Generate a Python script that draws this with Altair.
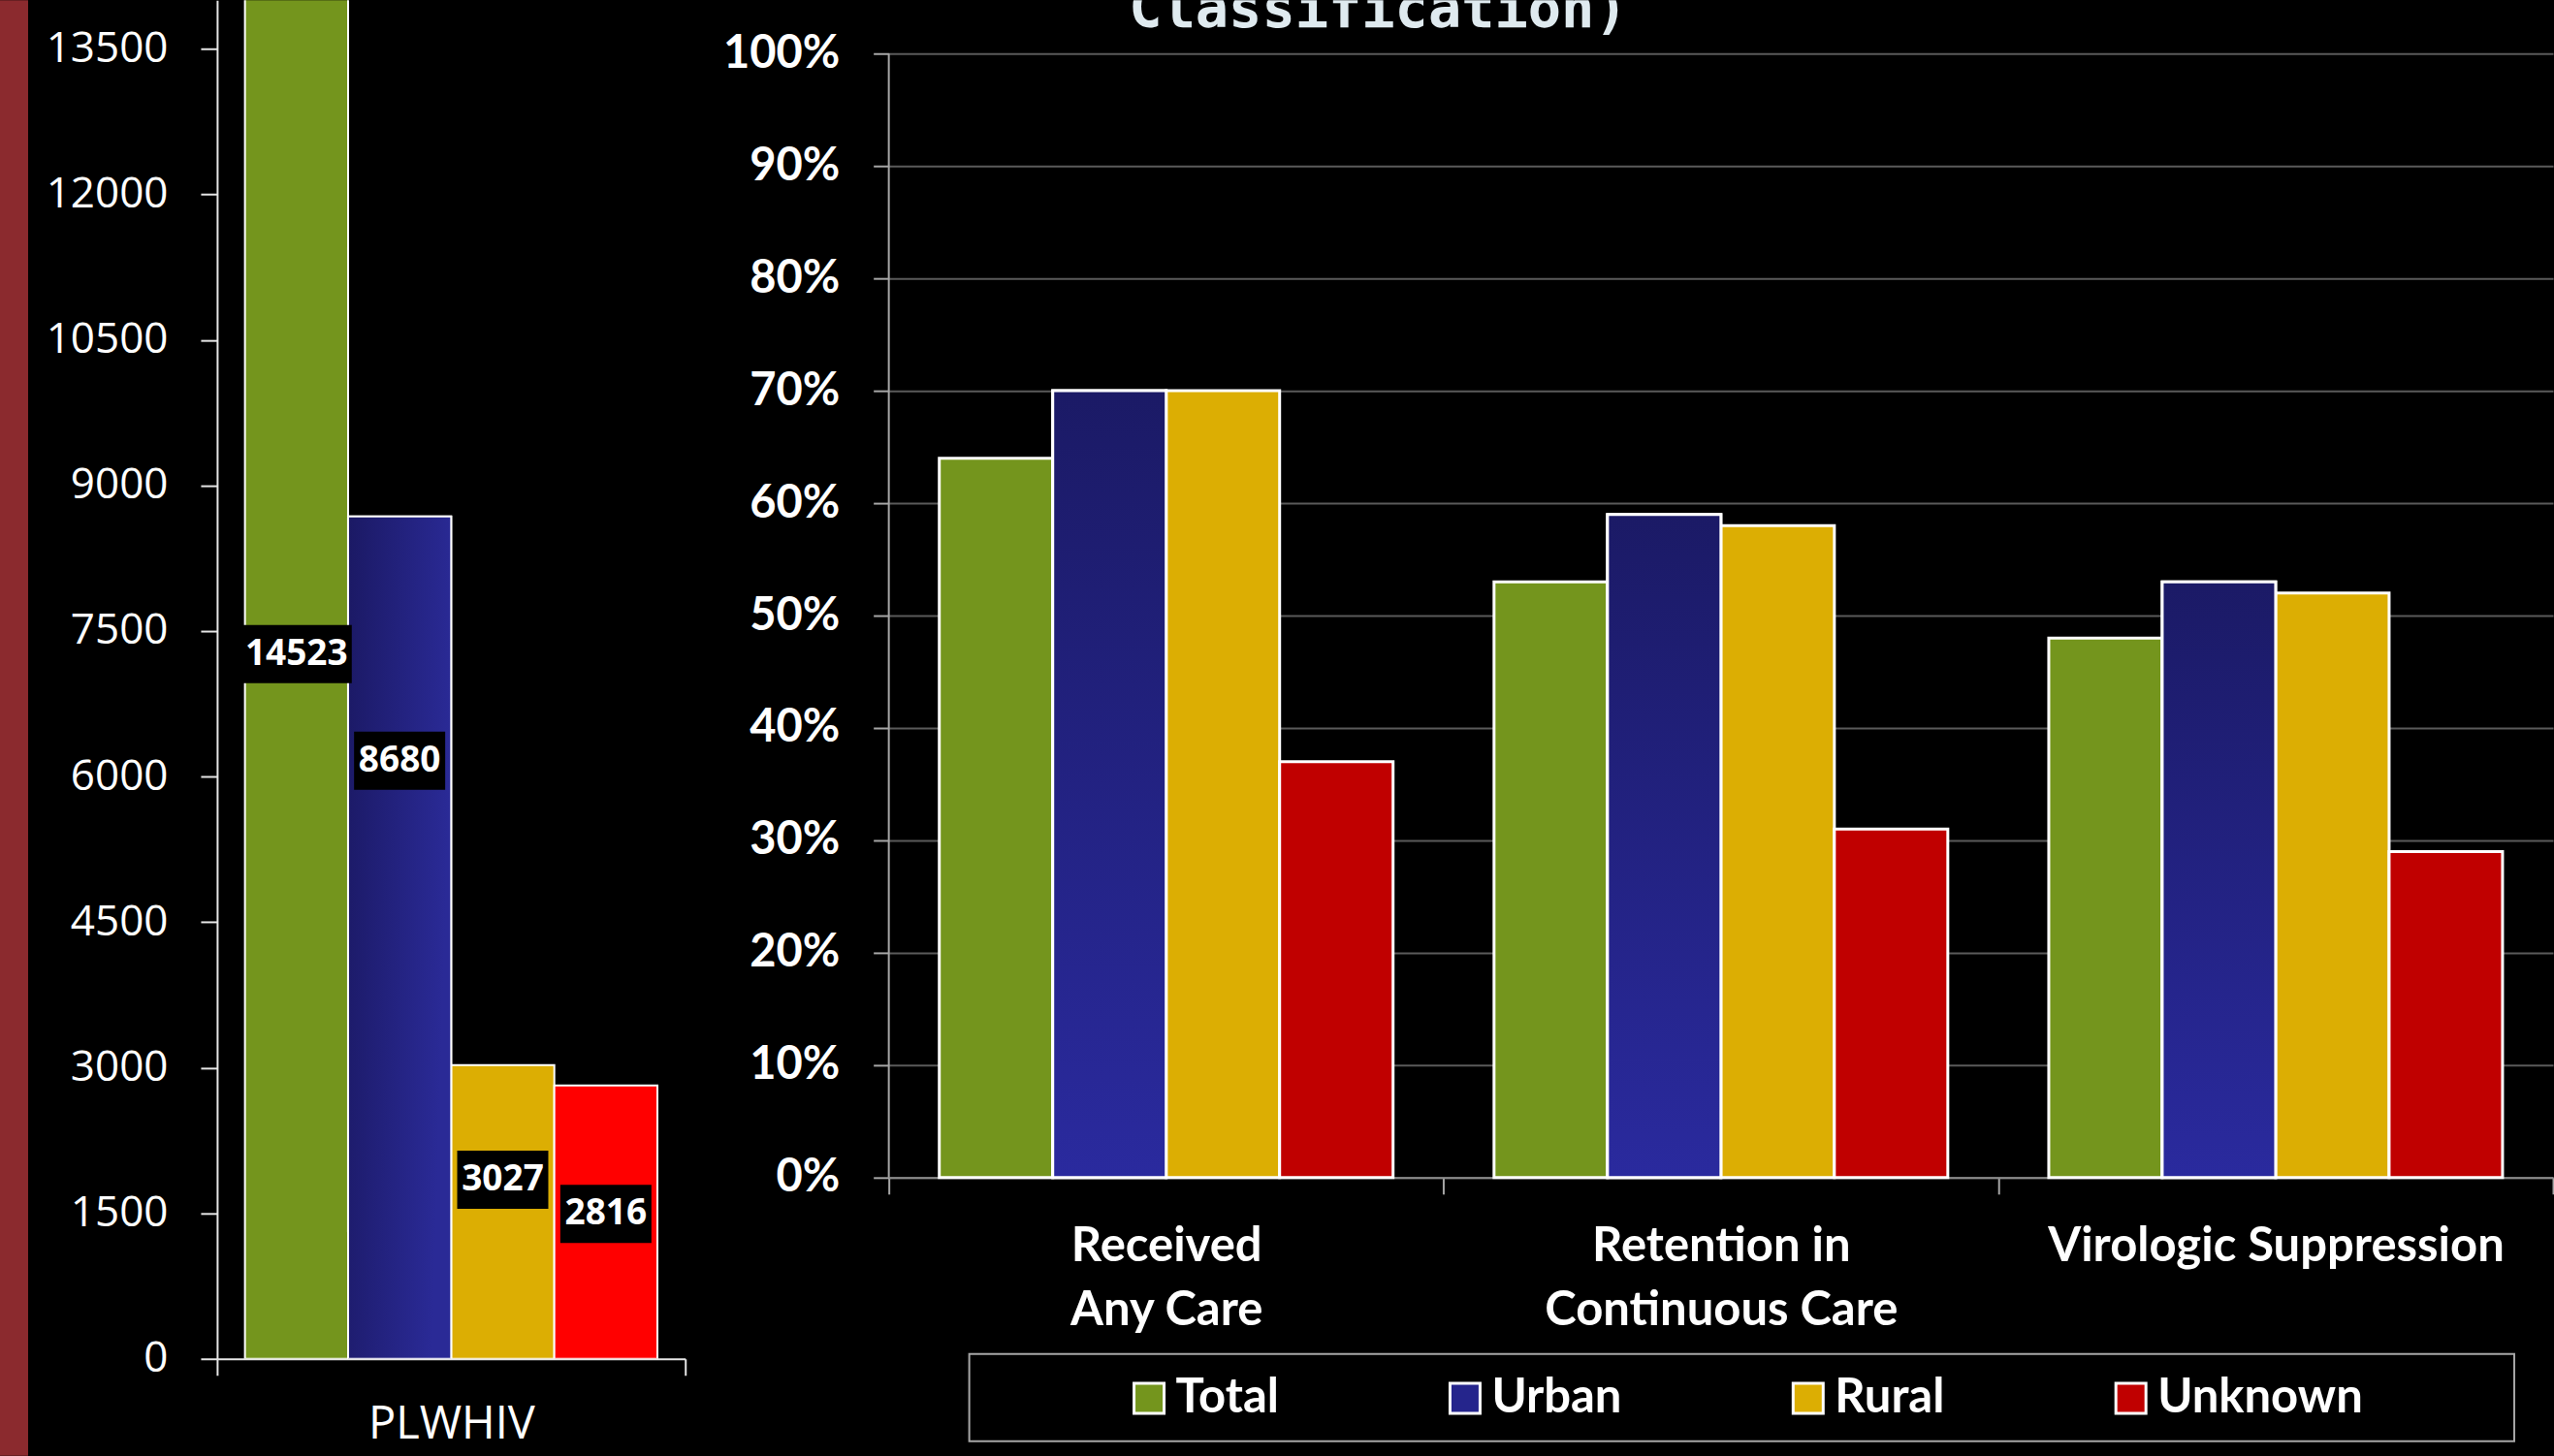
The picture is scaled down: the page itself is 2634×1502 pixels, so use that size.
import altair as alt
import pandas as pd

# ---- data -------------------------------------------------------------
groups = ["Total", "Urban", "Rural", "Unknown"]

# People living with HIV, by residence
plwhiv_counts = [14523, 8680, 3027, 2816]
# where each count label sits, as a share of its bar
label_height_share = [0.50, 0.71, 0.61, 0.53]

# continuum-of-care stages ("|" marks a line break in the axis label)
stages = ["Received|Any Care", "Retention in|Continuous Care", "Virologic Suppression"]
total_pct = [0.64, 0.53, 0.48]
urban_pct = [0.70, 0.59, 0.53]
rural_pct = [0.70, 0.58, 0.52]
unknown_pct = [0.37, 0.31, 0.29]

count_ticks = [0, 1500, 3000, 4500, 6000, 7500, 9000, 10500, 12000, 13500]
pct_ticks = [0, 0.1, 0.2, 0.3, 0.4, 0.5, 0.6, 0.7, 0.8, 0.9, 1.0]

title_tail = "Classification)"

# ---- styling ----------------------------------------------------------
GREEN = "#74951d"
YELLOW = "#dcae03"
left_colors = [GREEN, "#222280", YELLOW, "#ff0000"]
right_colors = [GREEN, "#25258c", YELLOW, "#c00000"]

blue_across = alt.LinearGradient(
    gradient="linear", x1=0, y1=0, x2=1, y2=0.25,
    stops=[alt.GradientStop(offset=0, color="#1b1964"),
           alt.GradientStop(offset=1, color="#2a2a96")])
blue_down = alt.LinearGradient(
    gradient="linear", x1=0, y1=0, x2=0, y2=1,
    stops=[alt.GradientStop(offset=0, color="#1b1a66"),
           alt.GradientStop(offset=1, color="#2a2a9e")])

# ---- left panel: PLWHIV counts ---------------------------------------
left_df = pd.DataFrame({
    "cat": ["PLWHIV"] * len(groups),
    "group": groups,
    "count": plwhiv_counts,
    "label": [str(v) for v in plwhiv_counts],
    "label_at": [v * s for v, s in zip(plwhiv_counts, label_height_share)],
})

x_left = alt.X(
    "cat:N", title=None,
    scale=alt.Scale(paddingInner=0, paddingOuter=0),
    axis=alt.Axis(labelAngle=0, tickBand="extent", domainColor="#e6e6e6",
                  domainWidth=2, tickColor="#e6e6e6", tickWidth=2, tickSize=17,
                  labelPadding=28, labelFont="Open Sans", labelFontSize=47,
                  labelColor="white"),
)
xoff_left = alt.XOffset("group:N", sort=groups,
                        scale=alt.Scale(paddingOuter=0.27, paddingInner=0))
y_left = alt.Y(
    "count:Q", title=None,
    scale=alt.Scale(domain=[0, 14000], nice=False),
    axis=alt.Axis(values=count_ticks, format="d", grid=False, domainColor="#e6e6e6",
                  domainWidth=2, tickColor="#e6e6e6", tickWidth=2, tickSize=17,
                  labelPadding=34, labelFont="Open Sans", labelFontSize=44,
                  labelColor="white"),
)

left_base = alt.Chart(left_df)

side_strip = left_base.mark_rect(color="#8b2a2e").encode(
    x=alt.value(-224), x2=alt.value(-195), y=alt.value(0), y2=alt.value(1502)
).transform_filter("datum.group == 'Total'")

left_bars = left_base.mark_bar(stroke="white", strokeWidth=2, clip=True).encode(
    x=x_left, xOffset=xoff_left, y=y_left,
    color=alt.Color("group:N", sort=groups,
                    scale=alt.Scale(domain=groups, range=left_colors), legend=None),
)
left_blue = left_base.mark_bar(fill=blue_across, stroke="white", strokeWidth=2,
                               clip=True).encode(
    x=x_left, xOffset=xoff_left, y=y_left
).transform_filter("datum.group == 'Urban'")

label_boxes = left_base.mark_tick(color="black", thickness=60, opacity=1).encode(
    x=x_left, xOffset=xoff_left, y=alt.Y("label_at:Q"),
    size=alt.Size("boxw:Q", scale=None, legend=None),
).transform_calculate(boxw="length(datum.label) * 20 + 14")

label_text = left_base.mark_text(font="Open Sans", fontWeight="bold", fontSize=37,
                                 color="white", baseline="middle", align="center").encode(
    x=x_left, xOffset=xoff_left, y=alt.Y("label_at:Q"), text="label:N",
)

left_chart = alt.layer(side_strip, left_bars, left_blue, label_boxes, label_text).properties(
    width=483, height=1402
)

# ---- right panel: continuum of care by residence ----------------------
rows = []
for i, stage in enumerate(stages):
    for g, vals in zip(groups, [total_pct, urban_pct, rural_pct, unknown_pct]):
        rows.append({"stage": stage, "group": g, "pct": vals[i]})
right_df = pd.DataFrame(rows)

x_right = alt.X(
    "stage:N", sort=stages, title=None,
    scale=alt.Scale(paddingInner=0, paddingOuter=0),
    axis=alt.Axis(labelAngle=0, tickBand="extent", labelExpr="split(datum.label, '|')",
                  labelFont="Lato", labelFontWeight="bold", labelFontSize=49,
                  labelLineHeight=66, labelColor="white", labelPadding=30,
                  labelLimit=0, tickSize=17, tickColor="#a6a6a6", tickWidth=2,
                  domainColor="#8c8c8c", domainWidth=2),
)
xoff_right = alt.XOffset("group:N", sort=groups,
                         scale=alt.Scale(paddingOuter=0.445, paddingInner=0))
y_right = alt.Y(
    "pct:Q", title=None,
    scale=alt.Scale(domain=[0, 1.0474], nice=False),
    axis=alt.Axis(values=pct_ticks, format=".0%", grid=True, gridColor="#5a5a5a",
                  gridWidth=2, domain=False, tickColor="#a6a6a6", tickSize=16,
                  tickWidth=2, labelFont="Lato", labelFontWeight="bold",
                  labelFontSize=47, labelColor="white", labelPadding=35),
)

right_base = alt.Chart(right_df)

right_bars = right_base.mark_bar(stroke="white", strokeWidth=3).encode(
    x=x_right, xOffset=xoff_right, y=y_right,
    color=alt.Color(
        "group:N", sort=groups,
        scale=alt.Scale(domain=groups, range=right_colors),
        legend=alt.Legend(title=None, orient="none", legendX=244, legendY=1418,
                          direction="horizontal", columns=4, columnPadding=167,
                          labelOffset=3, symbolType="square", symbolSize=961,
                          symbolStrokeColor="white", symbolStrokeWidth=3,
                          symbolOpacity=1, labelFont="Lato", labelFontWeight="bold",
                          labelFontSize=49, labelColor="white", labelLimit=0,
                          padding=0),
    ),
)
right_blue = right_base.mark_bar(fill=blue_down, stroke="white", strokeWidth=3).encode(
    x=x_right, xOffset=xoff_right, y=y_right
).transform_filter("datum.group == 'Urban'")

y_axis_line = alt.Chart(pd.DataFrame({"lo": [0.0], "hi": [1.0]})).mark_rule(
    color="#a6a6a6", strokeWidth=2
).encode(x=alt.value(0), y=alt.Y("lo:Q"), y2="hi:Q")

legend_box = alt.Chart(pd.DataFrame({"k": [0]})).mark_rect(
    fillOpacity=0, stroke="#a6a6a6", strokeWidth=2
).encode(x=alt.value(83), x2=alt.value(1677), y=alt.value(1397), y2=alt.value(1487))

title_text = alt.Chart(pd.DataFrame({"t": [title_tail]})).mark_text(
    font="DejaVu Sans Mono", fontWeight="bold", fontSize=57, color="#dfeaef",
    align="center", baseline="alphabetic", clip=True
).encode(x=alt.value(505), y=alt.value(28), text="t:N")

right_chart = alt.layer(right_bars, right_blue, y_axis_line, legend_box, title_text).properties(
    width=1717, height=1215
)

chart = alt.hconcat(left_chart, right_chart, spacing=210, bounds="flush").resolve_scale(
    color="independent", xOffset="independent"
).properties(padding=0).configure(background="black").configure_view(stroke=None)

chart.save("out.html", embed_options={"renderer": "svg", "actions": False})
